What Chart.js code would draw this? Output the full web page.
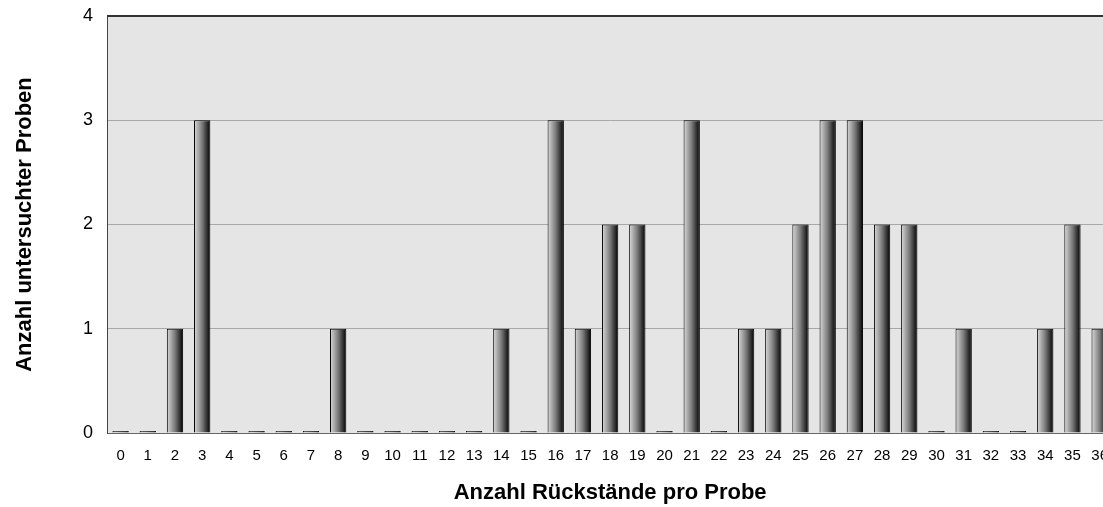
<!DOCTYPE html>
<html>
<head>
<meta charset="utf-8">
<script src="https://cdn.jsdelivr.net/npm/chart.js@4"></script>
<style>
  body { margin: 0; overflow: hidden; background: #fff; }
</style>
</head>
<body>
<canvas id="chart" width="1114" height="507"></canvas>
<script>
const categories = ["0","1","2","3","4","5","6","7","8","9","10","11","12","13","14","15","16","17","18","19","20","21","22","23","24","25","26","27","28","29","30","31","32","33","34","35","36"];
const counts = [0,0,1,3,0,0,0,0,1,0,0,0,0,0,1,0,3,1,2,2,0,3,0,1,1,2,3,3,2,2,0,1,0,0,1,2,1];
const yTicks = [0, 1, 2, 3, 4];

const font = "Arial, 'Liberation Sans', Helvetica, sans-serif";

// gray plot area plus the dark top border
const plotFrame = {
  id: "plotFrame",
  beforeDraw(chart) {
    const { ctx, chartArea: a } = chart;
    ctx.save();
    ctx.fillStyle = "#e5e5e5";
    ctx.fillRect(a.left, a.top, a.right - a.left, a.bottom - a.top);
    ctx.restore();
  },
  afterDraw(chart) {
    const { ctx, chartArea: a } = chart;
    ctx.save();
    ctx.strokeStyle = "#333";
    ctx.lineWidth = 2;
    ctx.beginPath();
    ctx.moveTo(a.left, a.top);
    ctx.lineTo(a.right, a.top);
    ctx.stroke();
    ctx.restore();
  }
};

function barGradient(c) {
  const x = c.chart.scales.x;
  if (!x || c.dataIndex === undefined) return "#888";
  const center = x.getPixelForValue(c.dataIndex);
  const half = x.width / categories.length * 0.6 / 2;
  if (!isFinite(center) || !isFinite(half)) return "#888";
  const g = c.chart.ctx.createLinearGradient(center - half, 0, center + half, 0);
  g.addColorStop(0, "#dadada");
  g.addColorStop(0.5, "#7a7a7a");
  g.addColorStop(1, "#000");
  return g;
}

new Chart(document.getElementById("chart"), {
  type: "bar",
  data: {
    labels: categories,
    datasets: [{
      data: counts,
      backgroundColor: barGradient,
      borderColor: "#000",
      borderWidth: 1,
      borderSkipped: "bottom",
      barPercentage: 0.6,
      categoryPercentage: 1.0,
      minBarLength: 2
    }]
  },
  options: {
    responsive: false,
    animation: false,
    layout: { padding: { top: 16, right: 0, left: 0, bottom: 0 } },
    plugins: { legend: { display: false }, tooltip: { enabled: false } },
    scales: {
      x: {
        grid: { display: false },
        border: { color: "#666", width: 1 },
        ticks: { color: "#000", font: { family: font, size: 15 }, padding: 6, maxRotation: 0, autoSkip: false },
        title: {
          display: true,
          text: "Anzahl Rückstände pro Probe",
          color: "#000",
          font: { family: font, size: 22, weight: "bold" },
          padding: { top: 0, bottom: 1 }
        },
        afterFit(scale) { scale.height = 74; }
      },
      y: {
        min: 0,
        max: 4,
        afterBuildTicks(scale) { scale.ticks = yTicks.map(v => ({ value: v })); },
        grid: { color: "#a8a8a8", lineWidth: 1, drawTicks: false },
        border: { color: "#444", width: 1 },
        ticks: { color: "#000", font: { family: font, size: 18 }, padding: 14 },
        title: {
          display: true,
          text: "Anzahl untersuchter Proben",
          color: "#000",
          font: { family: font, size: 22, weight: "bold" },
          padding: { top: 12, bottom: 0 }
        },
        afterFit(scale) {
          scale.width = 107;
          scale.paddingTop = 0;
          scale.paddingBottom = 0;
        }
      }
    }
  },
  plugins: [plotFrame]
});
</script>
</body>
</html>
